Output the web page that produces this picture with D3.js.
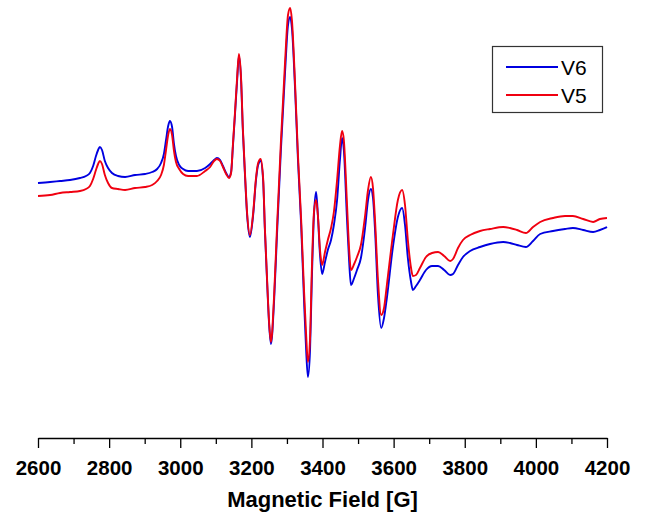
<!DOCTYPE html>
<html>
<head>
<meta charset="utf-8">
<script src="https://cdn.jsdelivr.net/npm/d3@7"></script>
<style>
  html, body { margin: 0; padding: 0; background: #fff; }
  svg { display: block; }
</style>
</head>
<body>
<svg id="chart" width="651" height="517"></svg>
<script>
// Magnetic field (G)
const field = [2600,2634,2662,2690,2718,2735,2746,2755,2763,2769,2774,2780,2788,2797,2808,2825,2845,2873,2901,2921,2935,2946,2954,2960,2966,2971,2977,2982,2988,2997,3008,3022,3047,3070,3084,3095,3103,3112,3120,3129,3137,3143,3148,3154,3160,3165,3171,3176,3182,3188,3196,3205,3213,3219,3226,3233,3238,3244,3250,3255,3264,3272,3283,3295,3303,3309,3314,3323,3331,3340,3348,3354,3359,3365,3370,3376,3382,3387,3393,3399,3407,3415,3424,3432,3441,3449,3455,3460,3469,3475,3480,3489,3497,3508,3520,3528,3536,3542,3548,3556,3565,3573,3581,3598,3612,3624,3632,3640,3649,3654,3663,3674,3691,3708,3725,3742,3759,3767,3781,3795,3815,3843,3871,3908,3927,3947,3972,3992,4012,4048,4082,4104,4133,4161,4180,4200];
// EPR signal, arbitrary units
const v6 = [67,68,69,70,72,74,77,84,94,100,103,100,89,82,77,74,73,75,76,78,81,87,96,110,124,129,123,107,94,85,81,79,79,82,86,90,92,90,84,77,73,78,103,136,170,194,170,120,75,35,13,35,70,85,89,70,20,-30,-75,-94,-50,15,100,180,225,233,222,160,90,25,-50,-100,-127,-100,-30,35,58,35,-5,-24,-12,0,10,25,50,90,112,100,30,-12,-35,-28,-20,-8,23,50,61,52,18,-45,-78,-68,-48,3,33,42,25,-8,-32,-40,-36,-30,-20,-16,-16,-20,-25,-24,-15,-7,-1,3,6,8,7,5,3,9,16,19,21,22,20,18,20,23];
const v5 = [54,55,57,58,59,61,64,71,80,86,89,86,75,67,62,61,60,62,63,65,69,75,85,100,115,121,115,100,88,81,76,74,74,79,83,89,91,89,83,76,72,77,105,138,173,196,172,122,77,37,15,37,72,87,91,72,22,-28,-73,-92,-45,22,108,190,235,242,230,165,95,30,-40,-85,-112,-88,-20,38,50,35,0,-15,-2,10,22,38,70,104,119,110,45,0,-20,-14,-7,5,35,60,73,62,28,-30,-65,-58,-35,15,50,60,45,10,-18,-26,-25,-18,-7,-3,-2,-6,-11,-9,2,10,15,19,21,23,22,20,17,23,28,32,34,34,31,28,31,32];
const seriesNames = ["V6", "V5"];
const seriesColors = ["#0000e0", "#f00010"];
const majorTicks = [2600,2800,3000,3200,3400,3600,3800,4000,4200];
const minorTicks = [2700,2900,3100,3300,3500,3700,3900,4100];
const xTitle = "Magnetic Field [G]";

const svg = d3.select("#chart");
const x = d3.scaleLinear().domain([2600, 4200]).range([38, 607]);
const y = d3.scaleLinear().domain([-188, 250]).range([438, 0]);

const line = d3.line().x(d => x(d[0])).y(d => y(d[1])).curve(d3.curveMonotoneX);

const series = [v6, v5];
series.forEach((vals, i) => {
  svg.append("path")
    .datum(field.map((f, j) => [f, vals[j]]))
    .attr("fill", "none")
    .attr("stroke", seriesColors[i])
    .attr("stroke-width", 1.9)
    .attr("stroke-linejoin", "round")
    .attr("d", line);
});

// minor ticks
const minorAxis = d3.axisBottom(x).tickValues(minorTicks).tickSize(6).tickSizeOuter(0).tickFormat("");
const gMinor = svg.append("g").attr("transform", "translate(0,438)").call(minorAxis);
gMinor.select(".domain").remove();
gMinor.selectAll("line").attr("stroke", "#000").attr("stroke-width", 1.3);

const majorAxis = d3.axisBottom(x).tickValues(majorTicks).tickSize(10).tickSizeOuter(0).tickPadding(12).tickFormat(d3.format("d"));
const gMajor = svg.append("g").attr("transform", "translate(0,438)").call(majorAxis);
gMajor.select(".domain").attr("stroke", "#000").attr("stroke-width", 1.5);
gMajor.selectAll("line").attr("stroke", "#000").attr("stroke-width", 1.3);
gMajor.selectAll("text")
  .attr("font-family", "'Liberation Sans', Arial, sans-serif")
  .attr("font-weight", "bold")
  .attr("font-size", 20.5)
  .attr("fill", "#000");

svg.append("text")
  .attr("x", (x(2600) + x(4200)) / 2)
  .attr("y", 507)
  .attr("text-anchor", "middle")
  .attr("font-family", "'Liberation Sans', Arial, sans-serif")
  .attr("font-weight", "bold")
  .attr("font-size", 22)
  .attr("fill", "#000")
  .text(xTitle);

// legend
const lg = svg.append("g");
lg.append("rect").attr("x", 492.5).attr("y", 46.5).attr("width", 110).attr("height", 66)
  .attr("fill", "#fff").attr("stroke", "#333").attr("stroke-width", 1.2);
seriesNames.forEach((name, i) => {
  const yy = 67 + i * 28;
  lg.append("line").attr("x1", 506).attr("x2", 558).attr("y1", yy).attr("y2", yy)
    .attr("stroke", seriesColors[i]).attr("stroke-width", 1.9);
  lg.append("text").attr("x", 561).attr("y", yy + 7.5)
    .attr("font-family", "'Liberation Sans', Arial, sans-serif")
    .attr("font-size", 21).attr("fill", "#000").text(name);
});
</script>
</body>
</html>
